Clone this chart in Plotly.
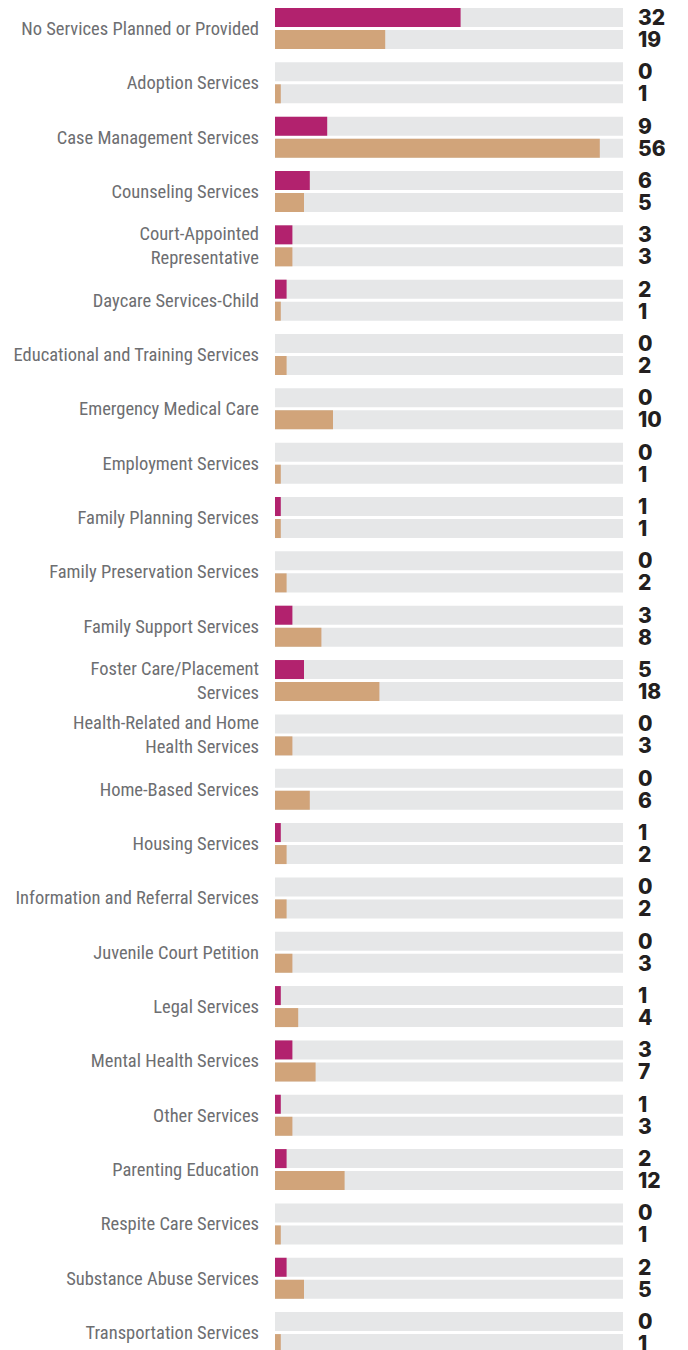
import plotly.graph_objects as go

categorias = [
    "No Services Planned or Provided",
    "Adoption Services",
    "Case Management Services",
    "Counseling Services",
    "Court-Appointed<br>Representative",
    "Daycare Services-Child",
    "Educational and Training Services",
    "Emergency Medical Care",
    "Employment Services",
    "Family Planning Services",
    "Family Preservation Services",
    "Family Support Services",
    "Foster Care/Placement<br>Services",
    "Health-Related and Home<br>Health Services",
    "Home-Based Services",
    "Housing Services",
    "Information and Referral Services",
    "Juvenile Court Petition",
    "Legal Services",
    "Mental Health Services",
    "Other Services",
    "Parenting Education",
    "Respite Care Services",
    "Substance Abuse Services",
    "Transportation Services",
]
serie_a = [32, 0, 9, 6, 3, 2, 0, 0, 0, 1, 0, 3, 5, 0, 0, 1, 0, 0, 1, 3, 1, 2, 0, 2, 0]
serie_b = [19, 1, 56, 5, 3, 1, 2, 10, 1, 1, 2, 8, 18, 3, 6, 2, 2, 3, 4, 7, 3, 12, 1, 5, 1]
maximo = 60

color_a = '#B2226E'
color_b = '#D1A47A'
color_fondo = '#E6E7E8'

fig = go.Figure()
fondo = [maximo] * len(categorias)

fig.add_trace(go.Bar(y=categorias, x=fondo, orientation='h', offsetgroup='a',
                     marker=dict(color=color_fondo, line_width=0), hoverinfo='skip', showlegend=False))
fig.add_trace(go.Bar(y=categorias, x=serie_a, orientation='h', offsetgroup='a',
                     marker=dict(color=color_a, line_width=0), showlegend=False))
fig.add_trace(go.Bar(y=categorias, x=fondo, orientation='h', offsetgroup='b',
                     marker=dict(color=color_fondo, line_width=0), hoverinfo='skip', showlegend=False))
fig.add_trace(go.Bar(y=categorias, x=serie_b, orientation='h', offsetgroup='b',
                     marker=dict(color=color_b, line_width=0), showlegend=False))

# etiquetas de valor a la derecha
fuente_valor = dict(family='Inter', size=21, color='#231F20', weight=800)
for cat, va, vb in zip(categorias, serie_a, serie_b):
    for v, dy in ((va, 11), (vb, -11)):
        fig.add_annotation(x=maximo, y=cat, text=str(v), showarrow=False, xanchor='left',
                           xshift=13, yshift=dy, height=19, valign='middle', font=fuente_valor)

# la página deja 8px de margen en el body
fig.update_layout(
    width=680, height=1342,
    barmode='group',
    bargap=0.19,
    bargroupgap=0.136,
    plot_bgcolor='white',
    paper_bgcolor='white',
    margin=dict(l=267, r=65, t=0, b=0),
    xaxis=dict(range=[0, maximo], visible=False),
    yaxis=dict(
        range=[24.32, -0.377],
        showgrid=False, zeroline=False, showline=False,
        ticks='', ticklabelstandoff=15,
        tickfont=dict(family='Roboto Condensed, DejaVu Sans Condensed, Roboto', size=18.5, color='#6D6E71'),
    ),
)

fig.write_html("out.html")
